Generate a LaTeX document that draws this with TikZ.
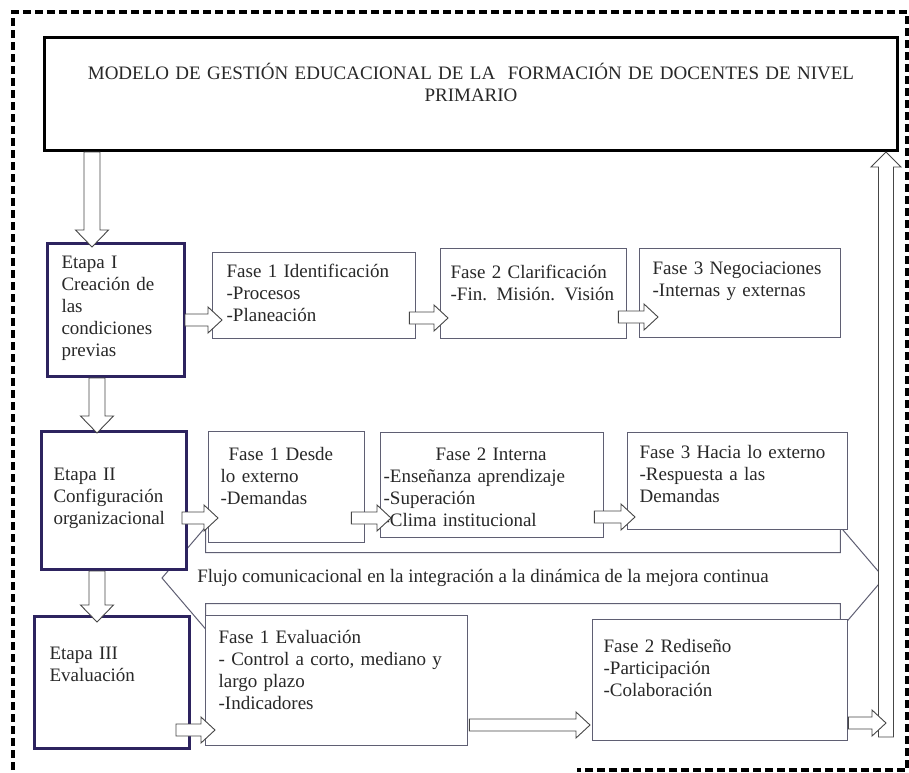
\documentclass[tikz,border=0pt]{standalone}
\usepackage{fontspec}
\setmainfont{Liberation Serif}
\usetikzlibrary{calc,shapes.arrows}
\definecolor{etapacol}{RGB}{45,35,95}
\definecolor{fasecol}{RGB}{95,95,115}
\definecolor{flecol}{RGB}{70,70,70}
\definecolor{txtcol}{RGB}{40,40,40}
\newcommand{\fs}{\fontsize{19}{22}\selectfont}

\begin{document}
\begin{tikzpicture}[x=1pt, y=-1pt,
  etapa/.style={draw=etapacol, line width=3pt, fill=white, anchor=north west, align=left, font=\fs, text=txtcol, text height=14pt},
  fase/.style={draw=fasecol, line width=1.3pt, fill=white, anchor=north west, align=left, font=\fs, text=txtcol, text height=14pt},
  harr/.style={draw=flecol, fill=white, line width=0.9pt, to path={
    ($(\tikztostart)+(0,-6)$) -- ($(\tikztotarget)+(-14,-6)$) -- ($(\tikztotarget)+(-14,-13)$) -- (\tikztotarget)
    -- ($(\tikztotarget)+(-14,13)$) -- ($(\tikztotarget)+(-14,6)$) -- ($(\tikztostart)+(0,6)$) -- cycle}},
  varr/.style={draw=flecol, fill=white, line width=0.9pt, to path={
    ($(\tikztostart)+(-8,0)$) -- ($(\tikztotarget)+(-8,-17)$) -- ($(\tikztotarget)+(-16.5,-17)$) -- (\tikztotarget)
    -- ($(\tikztotarget)+(16.5,-17)$) -- ($(\tikztotarget)+(8,-17)$) -- ($(\tikztostart)+(8,0)$) -- cycle}},
  uarr/.style={draw=flecol, fill=white, line width=0.9pt, to path={
    ($(\tikztostart)+(-7.5,0)$) -- ($(\tikztotarget)+(-7.5,15)$) -- ($(\tikztotarget)+(-15,15)$) -- (\tikztotarget)
    -- ($(\tikztotarget)+(15,15)$) -- ($(\tikztotarget)+(7.5,15)$) -- ($(\tikztostart)+(7.5,0)$) -- cycle}}]
\useasboundingbox (0,0) rectangle (909,772);
\draw[line width=3.5pt, dash pattern=on 8pt off 4pt] (13,770) -- (13,12) -- (907,12) -- (907,770) -- (577,770);

\node[draw, line width=3pt, fill=white, anchor=north west, align=center, font=\fs, text=txtcol,
  text width=800pt, inner xsep=26.5pt, inner ysep=28pt, text height=14pt, text depth=43pt] (title) at (43,36)
  {MODELO DE GESTIÓN EDUCACIONAL DE LA~ FORMACIÓN DE DOCENTES DE NIVEL\\PRIMARIO};

% flujo de comunicacion, detras de las fases
\node[double arrow, draw=fasecol, line width=1pt, fill=white, font=\fs, text=txtcol, double arrow head extend=25.5pt,
  double arrow tip angle=99, minimum height=722pt, minimum width=101pt, text height=14pt, text depth=5pt,
  inner xsep=3pt, inner ysep=15.5pt] (flujo) at (523,578)
  {Flujo comunicacional en la integración a la dinámica de la mejora continua\hspace*{80pt}};

% etapa I
\node[etapa, inner xsep=14pt, text width=109pt, inner ysep=11pt, text depth=97pt] (et1) at (46,242) {Etapa I\\Creación de\\las\\condiciones\\previas};
\node[fase, inner xsep=14pt, text width=175pt, inner ysep=11pt, text depth=50pt] (f1) at (212,252) {Fase 1 Identificación\\-Procesos\\-Planeación};
\node[fase, inner xsep=10pt, text width=166pt, inner ysep=16pt, text depth=44pt] (f2) at (440,248) {Fase 2 Clarificación\\-Fin. Misión. Visión};
\node[fase, inner xsep=13pt, text width=175pt, inner ysep=12pt, text depth=51pt] (f3) at (639,248) {Fase 3 Negociaciones\\-Internas y externas};

% etapa II
\node[etapa, inner xsep=12pt, text width=121pt, inner ysep=35pt, text depth=54pt] (et2) at (40,430) {Etapa II\\Configuración\\organizacional};
\node[fase, inner xsep=12pt, text width=132pt, inner ysep=15pt, text depth=67pt] (f1d) at (208,431) {\hspace*{8pt}Fase 1 Desde\\lo externo\\-Demandas};
\node[fase, inner xsep=3pt, text width=217pt, inner ysep=14pt, text depth=63pt] (f2i) at (380,432) {\hspace*{52pt}Fase 2 Interna\\-Enseñanza aprendizaje\\-Superación\\-Clima institucional};
\node[fase, inner xsep=12pt, text width=196pt, inner ysep=12pt, text depth=59pt] (f3h) at (627,432) {Fase 3 Hacia lo externo\\-Respuesta a las\\Demandas};

% etapa III
\node[etapa, inner xsep=15pt, text width=125pt, inner ysep=29pt, text depth=60pt] (et3) at (33,615) {Etapa III\\Evaluación};
\node[fase, inner xsep=13pt, text width=236pt, inner ysep=14pt, text depth=88pt] (f1e) at (205,615) {Fase 1 Evaluación\\- Control a corto, mediano y\\largo plazo\\-Indicadores};
\node[fase, inner xsep=11pt, text width=233pt, inner ysep=19pt, text depth=69pt] (f2r) at (592,619) {Fase 2 Rediseño\\-Participación\\-Colaboración};

\coordinate (lazo) at (886,737);

\draw[varr] (title.south -| 92,0) to ($(et1.north -| 92,0)+(0,5)$);
\draw[varr] (et1.south -| 97,0) to ($(et2.north -| 97,0)+(0,3)$);
\draw[varr] (et2.south -| 97,0) to ($(et3.north -| 97,0)+(0,7)$);

\draw[harr] ($(et1.east |- 0,320)+(-1,0)$) to ($(f1.west |- 0,320)+(10,0)$);
\draw[harr] ($(f1.east |- 0,318)+(-7,0)$) to ($(f2.west |- 0,318)+(8,0)$);
\draw[harr] ($(f2.east |- 0,317)+(-9,0)$) to ($(f3.west |- 0,317)+(19,0)$);
\draw[harr] ($(et2.east |- 0,518)+(-6,0)$) to ($(f1d.west |- 0,518)+(10,0)$);
\draw[harr] ($(f1d.east |- 0,518)+(-14,0)$) to ($(f2i.west |- 0,518)+(11,0)$);
\draw[harr] ($(f2i.east |- 0,517)+(-10,0)$) to ($(f3h.west |- 0,517)+(8,0)$);
\draw[harr] ($(et3.east |- 0,730)+(-15,0)$) to ($(f1e.west |- 0,730)+(10,0)$);
\draw[harr] ($(f1e.east |- 0,725)+(1,0)$) to ($(f2r.west |- 0,725)+(-2,0)$);

\draw[uarr] (lazo) to (title.south -| lazo);
\draw[harr] (f2r.east |- 0,723) to (lazo |- 0,723);
\end{tikzpicture}
\end{document}
